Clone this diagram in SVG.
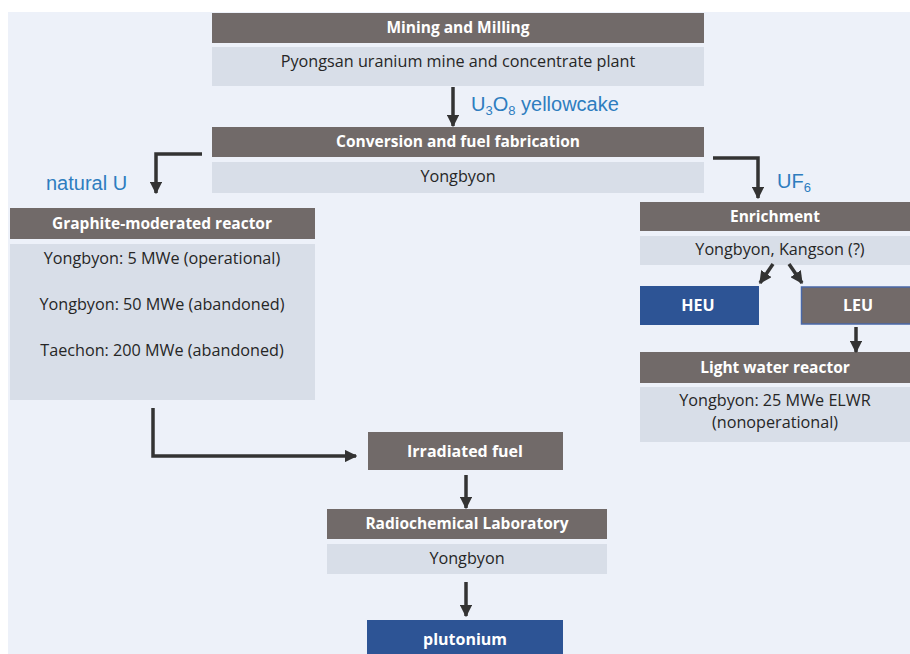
<svg xmlns="http://www.w3.org/2000/svg" width="910" height="654" viewBox="0 0 910 654">
<defs>
<style>
.hd{fill:#716a69}
.lt{fill:#d8dee8}
.blue{fill:#2d5495}
.ht{font-family:"Open Sans","Liberation Sans",sans-serif;font-weight:bold;font-size:15.5px;fill:#ffffff;text-anchor:middle}
.bt{font-family:"Open Sans","Liberation Sans",sans-serif;font-size:16.2px;fill:#262626;text-anchor:middle}
.lb{font-family:"Liberation Sans","Arial",sans-serif;font-size:20px;fill:#2e7dbf}
.big{font-family:"Open Sans","Liberation Sans",sans-serif;font-weight:bold;font-size:16px;fill:#ffffff;text-anchor:middle}
.cn{fill:none;stroke:#333333;stroke-width:3.5}
</style>
<marker id="ah" viewBox="0 0 10 10" refX="9" refY="5" markerWidth="3.6" markerHeight="3.6" orient="auto" markerUnits="strokeWidth">
<path d="M0,0 L10,5 L0,10 z" fill="#333333"/>
</marker>
</defs>
<rect x="0" y="0" width="910" height="654" fill="#ffffff"/>
<rect x="8" y="12" width="902" height="642" fill="#edf1f9"/>

<g id="mining">
<rect class="hd" x="212" y="13" width="492" height="30"/>
<text class="ht" x="458" y="33">Mining and Milling</text>
<rect class="lt" x="212" y="47" width="492" height="39"/>
<text class="bt" x="458" y="67">Pyongsan uranium mine and concentrate plant</text>
</g>

<g id="conversion">
<rect class="hd" x="212" y="127" width="492" height="30"/>
<text class="ht" x="458" y="147">Conversion and fuel fabrication</text>
<rect class="lt" x="212" y="162" width="492" height="31"/>
<text class="bt" x="458" y="182">Yongbyon</text>
</g>

<g id="graphite">
<rect class="hd" x="10" y="208" width="305" height="31"/>
<text class="ht" x="162" y="229">Graphite-moderated reactor</text>
<rect class="lt" x="10" y="244" width="305" height="156"/>
<text class="bt" x="162" y="264">Yongbyon: 5 MWe (operational)</text>
<text class="bt" x="162" y="310">Yongbyon: 50 MWe (abandoned)</text>
<text class="bt" x="162" y="356">Taechon: 200 MWe (abandoned)</text>
</g>

<g id="enrichment">
<rect class="hd" x="640" y="202" width="270" height="29"/>
<text class="ht" x="775" y="222">Enrichment</text>
<rect class="lt" x="640" y="236" width="270" height="29"/>
<text class="bt" x="780" y="255">Yongbyon, Kangson (?)</text>
</g>

<g id="heu">
<rect class="blue" x="640" y="286" width="119" height="39"/>
<text class="big" x="698" y="311">HEU</text>
</g>

<g id="leu">
<rect x="801.5" y="287" width="110" height="37" fill="#726a69" stroke="#4a68a8" stroke-width="1.5"/>
<text class="big" x="858" y="311">LEU</text>
</g>

<g id="lwr">
<rect class="hd" x="640" y="352" width="270" height="31"/>
<text class="ht" x="775" y="373">Light water reactor</text>
<rect class="lt" x="640" y="387" width="270" height="55"/>
<text class="bt" x="775" y="406" font-size="15.5">Yongbyon: 25 MWe ELWR</text>
<text class="bt" x="775" y="428" font-size="15.5">(nonoperational)</text>
</g>

<g id="irradiated">
<rect class="hd" x="368" y="432" width="195" height="38"/>
<text class="big" x="465" y="457">Irradiated fuel</text>
</g>

<g id="radiochem">
<rect class="hd" x="327" y="509" width="280" height="30"/>
<text class="ht" x="467" y="529">Radiochemical Laboratory</text>
<rect class="lt" x="327" y="544" width="280" height="30"/>
<text class="bt" x="467" y="564">Yongbyon</text>
</g>

<g id="plutonium">
<rect class="blue" x="367" y="620" width="196" height="34"/>
<text class="big" x="465" y="645">plutonium</text>
</g>

<g id="labels">
<text class="lb" x="471" y="111">U<tspan font-size="13" dy="4">3</tspan><tspan dy="-4">O</tspan><tspan font-size="13" dy="4">8</tspan><tspan dy="-4"> yellowcake</tspan></text>
<text class="lb" x="46" y="190">natural U</text>
<text class="lb" x="777" y="188">UF<tspan font-size="13" dy="4">6</tspan></text>
</g>

<g id="connectors">
<path class="cn" d="M453,87 L453,126" marker-end="url(#ah)"/>
<path class="cn" d="M202,154 L156,154 L156,193" marker-end="url(#ah)"/>
<path class="cn" d="M713,158 L758,158 L758,198" marker-end="url(#ah)"/>
<path class="cn" d="M773,264 L760,283" marker-end="url(#ah)"/>
<path class="cn" d="M789,264 L802,283" marker-end="url(#ah)"/>
<path class="cn" d="M856,327 L856,352" marker-end="url(#ah)"/>
<path class="cn" d="M153,408 L153,456 L356,456" marker-end="url(#ah)"/>
<path class="cn" d="M466,475 L466,508" marker-end="url(#ah)"/>
<path class="cn" d="M466,582 L466,616" marker-end="url(#ah)"/>
</g>
</svg>
